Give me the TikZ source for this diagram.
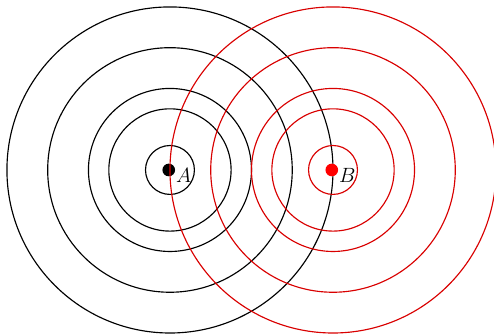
\documentclass[tikz,border=0pt]{standalone}
\begin{document}
\begin{tikzpicture}[
  ring/.style={line width=0.8pt},
  dotnode/.style={circle,inner sep=0pt,minimum size=0.31cm},
  lbl/.style={anchor=west,inner sep=0pt,font=\fontsize{14}{16}\selectfont}
]
\useasboundingbox (-4.17,-4.025) rectangle (7.95,4.17);
\coordinate (A) at (0,0);
\coordinate (B) at (4,0);
\foreach \r in {0.6,1.5,2,3,4} \draw[ring,black] (A) circle (\r);
\node[dotnode,fill=black] (a) at (-0.03,0) {};
\foreach \r in {0.6,1.5,2,3,4} \draw[ring,red!85!black] (B) circle (\r);
\node[dotnode,fill=red] (b) at (3.97,0) {};
\node[lbl] (la) at ([xshift=0.01cm,yshift=-0.14cm]a.east) {$A$};
\node[lbl] (lb) at ([xshift=0.01cm,yshift=-0.14cm]b.east) {$B$};
\end{tikzpicture}
\end{document}
